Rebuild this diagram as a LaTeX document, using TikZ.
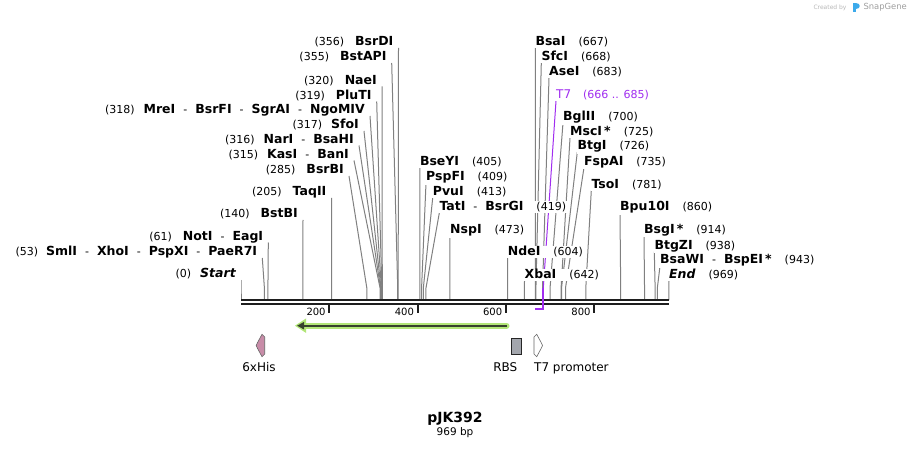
\documentclass[tikz,border=0pt]{standalone}
\usepackage{fontspec}
\setmainfont{DejaVu Sans}
\usetikzlibrary{arrows.meta}
\pgfdeclarelayer{back}
\pgfdeclarelayer{bg}
\pgfsetlayers{back,bg,main}
\definecolor{sitec}{RGB}{128,128,128}
\definecolor{rulec}{RGB}{30,30,30}
\definecolor{t7c}{RGB}{160,45,240}
\definecolor{lgreen}{RGB}{178,230,120}
\definecolor{dgreen}{RGB}{55,65,45}
\definecolor{hispink}{RGB}{200,140,168}
\definecolor{rbsgray}{RGB}{163,166,173}
\definecolor{snapblue}{RGB}{60,170,235}
\newcommand\nm[1]{{\fontsize{12.5}{14}\selectfont\bfseries #1}}
\newcommand\dsh{\hspace{8pt}-\hspace{8pt}}
\newcommand\gp{\hspace{13pt}}
\newcommand\bpx[1]{241+0.4415*#1}
\tikzset{
  lab/.style={inner sep=1pt, fill=white, font=\fontsize{11}{13}\selectfont},
  siteline/.style={draw=sitec, line width=1pt},
  featlab/.style={inner sep=0pt, font=\fontsize{12}{14}\selectfont},
  ticklab/.style={inner sep=0pt, font=\fontsize{10}{12}\selectfont}
}
\newcommand\siteL[5]{%
  \node[lab, anchor=base east] (#1) at ({#2-4},{#3}) {#5};
  \coordinate (#1-t) at ({#2},{#3+2});
  \coordinate (#1-s) at ({\bpx{#4}},288);
  \coordinate (#1-r) at ({\bpx{#4}},300);
  \begin{pgfonlayer}{bg}\draw[siteline] (#1-t) -- (#1-s) -- (#1-r);\end{pgfonlayer}%
}
\newcommand\siteR[5]{%
  \node[lab, anchor=base west] (#1) at ({#2-1},{#3}) {#5};
  \coordinate (#1-t) at ({#2},{#3+2});
  \coordinate (#1-s) at ({\bpx{#4}},288);
  \coordinate (#1-r) at ({\bpx{#4}},300);
  \begin{pgfonlayer}{bg}\draw[siteline] (#1-t) -- (#1-s) -- (#1-r);\end{pgfonlayer}%
}
\begin{document}
\begin{tikzpicture}[x=1pt,y=-1pt]
\useasboundingbox (0,0) rectangle (911,449);
\begin{pgfonlayer}{back}\fill[white] (0,0) rectangle (911,449);\end{pgfonlayer}

% left-side sites
\siteL{bsrdi}{398.5}{46}{356}{(356)\hspace{11pt}\nm{BsrDI}}
\siteL{bstapi}{391.7}{61}{355}{(355)\hspace{11pt}\nm{BstAPI}}
\siteL{naei}{382}{84.5}{320}{(320)\hspace{11pt}\nm{NaeI}}
\siteL{pluti}{376.7}{99.5}{319}{(319)\hspace{11pt}\nm{PluTI}}
\siteL{mrei}{370}{114}{318}{(318)\hspace{9pt}\nm{MreI}\dsh\nm{BsrFI}\dsh\nm{SgrAI}\dsh\nm{NgoMIV}}
\siteL{sfoi}{364}{129}{317}{(317)\hspace{9pt}\nm{SfoI}}
\siteL{nari}{359}{143.5}{316}{(316)\hspace{9pt}\nm{NarI}\dsh\nm{BsaHI}}
\siteL{kasi}{354}{158.5}{315}{(315)\hspace{9pt}\nm{KasI}\dsh\nm{BanI}}
\siteL{bsrbi}{349}{174}{285}{(285)\hspace{11pt}\nm{BsrBI}}
\siteL{taqii}{331.5}{196}{205}{(205)\hspace{11pt}\nm{TaqII}}
\siteL{bstbi}{303}{218}{140}{(140)\hspace{11pt}\nm{BstBI}}
\siteL{noti}{268.3}{240.5}{61}{(61)\hspace{11pt}\nm{NotI}\dsh\nm{EagI}}
\siteL{smli}{262.3}{256}{53}{(53)\hspace{8pt}\nm{SmlI}\dsh\nm{XhoI}\dsh\nm{PspXI}\dsh\nm{PaeR7I}}
\siteL{start}{241}{278}{0}{(0)\hspace{9pt}\nm{\itshape Start}}

% right-side sites
\siteR{bsai}{535.3}{46}{667}{\nm{BsaI}\gp(667)}
\siteR{sfci}{541.3}{61}{668}{\nm{SfcI}\gp(668)}
\siteR{asei}{549}{76}{683}{\nm{AseI}\gp(683)}
\siteR{bglii}{563}{121}{700}{\nm{BglII}\gp(700)}
\siteR{msci}{570}{136}{725}{\nm{MscI\,*}\gp(725)}
\siteR{btgi}{577.3}{150}{726}{\nm{BtgI}\gp(726)}
\siteR{fspai}{584}{165.5}{735}{\nm{FspAI}\gp(735)}
\siteR{tsoi}{591.3}{188.5}{781}{\nm{TsoI}\gp(781)}
\siteR{bpu}{620}{211}{860}{\nm{Bpu10I}\gp(860)}
\siteR{bsgi}{644}{233.5}{914}{\nm{BsgI\,*}\gp(914)}
\siteR{btgzi}{654.3}{249.5}{938}{\nm{BtgZI}\gp(938)}
\siteR{bsawi}{660}{264}{943}{\nm{BsaWI}\dsh\nm{BspEI\,*}\gp(943)}
\siteR{end}{669}{279}{969}{\nm{\itshape End}\gp(969)}
\siteR{bseyi}{419.8}{166}{405}{\nm{BseYI}\gp(405)}
\siteR{pspfi}{426}{181}{409}{\nm{PspFI}\gp(409)}
\siteR{pvui}{432.7}{196}{413}{\nm{PvuI}\gp(413)}
\siteR{tati}{439.3}{211}{419}{\nm{TatI}\dsh\nm{BsrGI}\gp(419)}
\siteR{nspi}{450}{234}{473}{\nm{NspI}\gp(473)}
\siteR{ndei}{507.7}{256}{604}{\nm{NdeI}\gp(604)}
\siteR{xbai}{524.5}{279}{642}{\nm{XbaI}\gp(642)}

% T7 feature label
\node[lab, anchor=base west, text=t7c] (t7) at (555,99) {{\fontsize{12}{14}\selectfont T7}\hspace{12pt}(666 .. 685)};
\coordinate (t7-t) at (556,101);
\coordinate (t7-s) at (543.3,288);
\coordinate (t7-b) at (543.3,309);
\coordinate (t7-l) at (535,309);
\begin{pgfonlayer}{bg}\draw[t7c, line width=1pt] (t7-t) -- (t7-s);\end{pgfonlayer}

% ruler
\coordinate (r0a) at (241,300.3); \coordinate (r1a) at (669,300.3);
\coordinate (r0b) at (241,304.3); \coordinate (r1b) at (669,304.3);
\draw[rulec, line width=2pt] (r0a) -- (r1a);
\draw[rulec, line width=2pt] (r0b) -- (r1b);
\foreach \v in {200,400,600,800}{
  \coordinate (tk\v) at ({\bpx{\v}},305);
  \draw[rulec, line width=2pt] (tk\v) -- ++(0,8);
  \node[ticklab, anchor=base east] (tl\v) at ({\bpx{\v}-3.5},316) {\v};
}
\draw[t7c, line width=1.8pt] (t7-s) -- (t7-b);
\draw[t7c, line width=1.8pt] ([xshift=0.9pt]t7-b) -- (t7-l);

% green ORF arrow
\coordinate (ga) at (506.5,325.7);
\coordinate (gb) at (297,325.7);
\draw[lgreen, line width=6pt, line cap=round] (ga) -- ([xshift=8pt]gb);
\fill[lgreen] (295,325.7) -- (306,318.5) -- (306,332.9) -- cycle;
\draw[dgreen, line width=1.8pt, -{Triangle[length=7pt,width=7pt]}] (ga) -- (gb);

% 6xHis feature
\draw[draw=gray!80!black, fill=hispink, line width=0.6pt]
  (262,334.3) -- (264.7,337) -- (264.7,354) -- (262,356.7) -- (257.3,348) -- (256.2,345.5) -- (257.3,343) -- cycle;
\node[featlab, anchor=base] (his) at (259,371.5) {6xHis};

% RBS
\draw[draw=gray!30!black, fill=rbsgray, line width=0.6pt] (511.3,338.5) rectangle (521.7,354.3);
\node[featlab, anchor=base] (rbs) at (505.3,371.5) {RBS};

% T7 promoter
\draw[draw=gray!80!black, fill=white, line width=0.6pt]
  (536.7,334.3) -- (534,337) -- (534,354) -- (536.7,356.7) -- (541.4,348) -- (542.5,345.5) -- (541.4,343) -- cycle;
\node[featlab, anchor=base west] (t7p) at (534,371.5) {T7 promoter};

% title
\node[inner sep=0pt, anchor=base, font=\fontsize{14}{16}\selectfont\bfseries] (title) at (455,422.7) {pJK392};
\node[inner sep=0pt, anchor=base, font=\fontsize{10.5}{12}\selectfont] (len) at (455,435.5) {969 bp};

% watermark
\node[inner sep=0pt, anchor=base west, text=gray!55, font=\fontsize{6}{7}\selectfont] (cby) at (813.3,10) {Created by};
\fill[snapblue] (853,3) rectangle (855.6,12.5);
\fill[snapblue] (855.6,3) .. controls (860.5,3) and (860.5,9) .. (855.6,9) -- cycle;
\node[inner sep=0pt, anchor=base west, text=gray!75, font=\fontsize{8.4}{9}\selectfont] (sg) at (863.3,10) {SnapGene};
\end{tikzpicture}
\end{document}
